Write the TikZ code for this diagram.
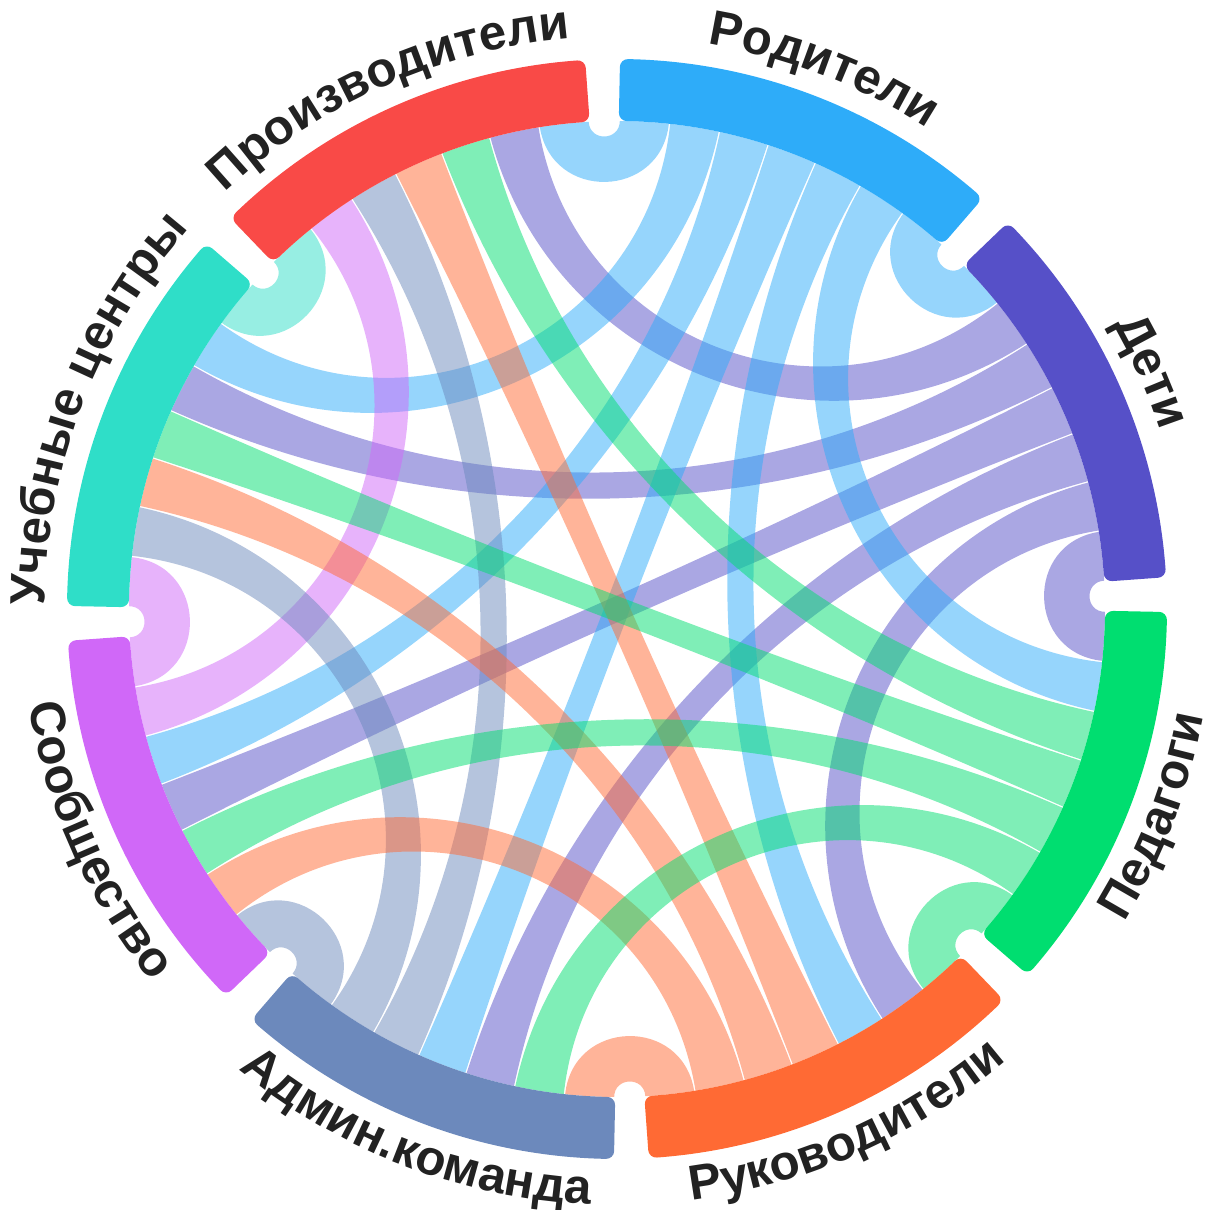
\documentclass[tikz,border=0pt]{standalone}
\usepackage{fontspec}
\setmainfont{Liberation Sans}
\usetikzlibrary{decorations.text}

% group colours, counterclockwise from the right
\definecolor{g0}{HTML}{5650C8} % Дети
\definecolor{g1}{HTML}{2EACF9} % Родители
\definecolor{g2}{HTML}{F94A47} % Производители
\definecolor{g3}{HTML}{2FDEC8} % Учебные центры
\definecolor{g4}{HTML}{D068F8} % Сообщество
\definecolor{g5}{HTML}{6C89BC} % Админ.команда
\definecolor{g6}{HTML}{FF6A34} % Руководители
\definecolor{g7}{HTML}{00DE70} % Педагоги
\definecolor{labeltext}{HTML}{222222}

\newcommand{\lbl}{\fontsize{14pt}{16pt}\selectfont\bfseries\color{labeltext}}
\newcommand{\R}{4.88}   % inner radius, chords end here
\newcommand{\off}{3.25} % rotation + half gap
\newcommand{\w}{5.928571} % slot width (41.5/7)
\newcommand{\pad}{0.08}

\begin{document}
\begin{tikzpicture}[chord/.style={fill opacity=0.5},
                    ring/.style={line width=0.16cm,line join=round},
                    label arc/.style={decorate,decoration={text along path,text align=center,text={|\lbl|#1}}}
                   ]
   \useasboundingbox (-6.17,-6.01) rectangle (5.87,6.09);
   % chords: every pair of groups
   \foreach \k in {0,...,6}{
     \pgfmathtruncatemacro\kk{\k+1}
     \foreach \j in {\kk,...,7}{
       \pgfmathtruncatemacro\s{mod(\k-1-\j+16,8)}
       \pgfmathtruncatemacro\t{mod(\j-1-\k+16,8)}
       \pgfmathtruncatemacro\rk{mod(1-\k+8,8)}
       \pgfmathtruncatemacro\rj{mod(1-\j+8,8)}
       \pgfmathtruncatemacro\c{\rk<\rj ? \k : \j}
       \pgfmathsetmacro\sa{\off+45*\k+\s*\w+\pad}
       \pgfmathsetmacro\sb{\sa+\w-2*\pad}
       \pgfmathsetmacro\ta{\off+45*\j+\t*\w+\pad}
       \pgfmathsetmacro\tb{\ta+\w-2*\pad}
       \pgfmathsetmacro\da{sin(mod(\ta-\sb+720,360)/2)}
       \pgfmathsetmacro\db{sin(mod(\sa-\tb+720,360)/2)}
       \pgfmathsetmacro\ca{\R*(1-4/3*\da/(1+\da))}
       \pgfmathsetmacro\cb{\R*(1-4/3*\db/(1+\db))}
       \fill[chord,fill=g\c] (\sb:\R) .. controls (\sb:\ca) and (\ta:\ca) .. (\ta:\R)
         arc[start angle=\ta,end angle=\tb,radius=\R]
         .. controls (\tb:\cb) and (\sa:\cb) .. (\sa:\R)
         arc[start angle=\sa,end angle=\sb,radius=\R] -- cycle;
     }
   }
   % outer ring
   \foreach \k in {0,...,7}{
     \pgfmathsetmacro\ga{\off+45*\k+0.9}
     \pgfmathsetmacro\gb{\off+45*\k+41.5-0.9}
     \filldraw[ring,fill=g\k,draw=g\k] (\ga:4.96) arc[start angle=\ga,end angle=\gb,radius=4.96]
       -- (\gb:5.42) arc[start angle=\gb,end angle=\ga,radius=5.42] -- cycle;
   }
   % labels
   \path[label arc=Дети] (64:5.72) arc[start angle=64,end angle=-16,radius=5.72];
   \path[label arc=Родители] (109:5.72) arc[start angle=109,end angle=29,radius=5.72];
   \path[label arc=Производители] (154:5.72) arc[start angle=154,end angle=74,radius=5.72];
   \path[label arc=Учебные центры] (199:5.72) arc[start angle=199,end angle=119,radius=5.72];
   \path[label arc=Сообщество] (164:5.96) arc[start angle=164,end angle=244,radius=5.96];
   \path[label arc=Админ.команда] (209:5.96) arc[start angle=209,end angle=289,radius=5.96];
   \path[label arc=Руководители] (254:5.96) arc[start angle=254,end angle=334,radius=5.96];
   \path[label arc=Педагоги] (299:5.96) arc[start angle=299,end angle=379,radius=5.96];
\end{tikzpicture}
\end{document}
